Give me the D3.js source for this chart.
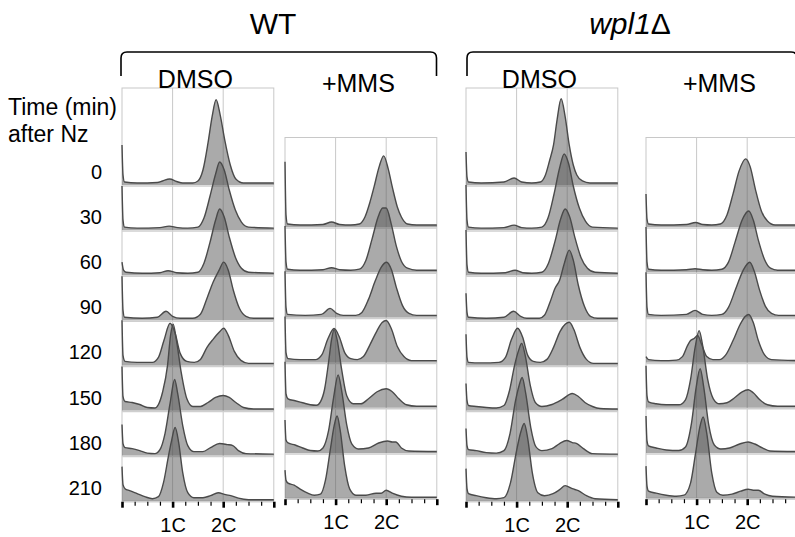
<!DOCTYPE html>
<html>
<head>
<meta charset="utf-8">
<script src="https://cdn.jsdelivr.net/npm/d3@7"></script>
<style>
  body { margin: 0; background: #fff; }
  svg { display: block; font-family: "Liberation Sans", Arial, sans-serif; }
</style>
</head>
<body>
<svg id="chart" width="795" height="537"></svg>
<script>
// time points (min after Nz); +MMS panels start at 30
const times = [0, 30, 60, 90, 120, 150, 180, 210];
const mmsTimes = [30, 60, 90, 120, 150, 180, 210];
const xTicks = ['', '1C', '2C', ''];

// histograms: [DNA content (1C = 1), cell count]
const wtDmso = [
    [[0,40],[0.02,10],[0.05,3],[0.3,2],[0.7,2.5],[0.8,4],[0.94,6],[1.08,3.5],[1.2,2],[1.4,2],[1.5,4],[1.6,15],[1.7,42],[1.78,68],[1.86,85],[1.94,70],[2.03,45],[2.14,20],[2.25,6],[2.4,2],[3,2]],
    [[0,44],[0.02,10],[0.05,3],[0.3,2],[0.75,2.5],[0.93,4],[1.1,2.5],[1.3,2],[1.5,3],[1.62,12],[1.74,34],[1.85,56],[1.93,68],[2.02,60],[2.12,40],[2.24,20],[2.36,8],[2.5,3],[3,2]],
    [[0,13],[0.03,5],[0.08,3],[0.4,2],[0.75,2.5],[0.91,4.5],[1.08,2.5],[1.3,2],[1.5,3],[1.62,12],[1.74,33],[1.85,55],[1.93,66],[2.02,58],[2.12,38],[2.24,18],[2.36,7],[2.5,3],[3,2]],
    [[0,44],[0.02,10],[0.05,3],[0.4,2],[0.7,3],[0.87,9],[1.0,4],[1.15,2],[1.4,2],[1.55,6],[1.68,22],[1.8,38],[1.92,50],[2.01,58],[2.1,50],[2.2,30],[2.32,12],[2.45,4],[2.6,2],[3,2]],
    [[0,45],[0.02,10],[0.06,4],[0.3,3],[0.6,3],[0.72,8],[0.83,25],[0.95,42],[1.05,32],[1.15,12],[1.28,4],[1.43,3],[1.55,6],[1.68,18],[1.8,26],[1.92,33],[2.01,37],[2.1,30],[2.22,14],[2.35,5],[2.5,2],[3,2]],
    [[0,44],[0.02,14],[0.06,9],[0.2,8],[0.35,6],[0.5,3],[0.65,2.5],[0.72,6],[0.8,18],[0.9,45],[0.96,75],[1.01,86],[1.07,72],[1.17,38],[1.28,12],[1.4,4],[1.55,4],[1.7,8],[1.85,13],[2.0,15],[2.12,13],[2.25,8],[2.4,3],[2.6,1.5],[3,1.5]],
    [[0,31],[0.02,12],[0.06,8],[0.2,7],[0.35,5],[0.5,2.5],[0.65,2],[0.75,6],[0.85,22],[0.95,52],[1.04,76],[1.1,62],[1.2,30],[1.3,10],[1.42,4],[1.6,4],[1.75,8],[1.93,12],[2.08,11],[2.19,10],[2.3,5],[2.45,2],[3,1.5]],
    [[0,34],[0.02,16],[0.06,12],[0.15,10],[0.3,7],[0.45,4],[0.6,2],[0.72,4],[0.82,18],[0.92,45],[0.98,60],[1.05,73],[1.12,58],[1.2,28],[1.3,8],[1.42,3],[1.6,3],[1.75,5],[1.9,8],[2.05,6],[2.15,5],[2.3,2.5],[2.5,1],[3,1]]
];
const wtMms = [
    [[0,65],[0.02,12],[0.05,3],[0.3,2],[0.75,2.5],[0.92,5],[1.08,2.5],[1.3,2],[1.47,3],[1.58,10],[1.68,25],[1.76,40],[1.86,60],[1.95,71],[2.04,58],[2.12,40],[2.22,20],[2.3,10],[2.42,3],[2.6,2],[3,2]],
    [[0,46],[0.02,10],[0.05,3],[0.3,2],[0.75,2.5],[0.92,4.5],[1.08,2.5],[1.3,2],[1.47,3],[1.6,12],[1.72,33],[1.84,55],[1.93,64],[2.0,64],[2.1,48],[2.2,26],[2.3,11],[2.42,4],[2.6,2],[3,2]],
    [[0,46],[0.02,10],[0.05,3],[0.4,2],[0.72,3],[0.89,9],[1.02,4],[1.15,2],[1.4,2],[1.52,5],[1.65,18],[1.78,36],[1.9,50],[2.01,55],[2.1,48],[2.2,30],[2.32,12],[2.45,4],[2.6,2],[3,2]],
    [[0,46],[0.02,10],[0.06,4],[0.3,3],[0.6,3],[0.73,8],[0.85,24],[0.97,34],[1.07,26],[1.18,10],[1.3,4],[1.43,3],[1.55,6],[1.68,18],[1.82,32],[1.92,40],[2.0,42],[2.1,34],[2.22,16],[2.35,6],[2.5,2],[3,2]],
    [[0,46],[0.02,14],[0.06,9],[0.2,7],[0.35,5],[0.5,3],[0.62,2.5],[0.7,6],[0.78,18],[0.86,45],[0.92,68],[0.97,78],[1.03,68],[1.12,38],[1.22,12],[1.35,4],[1.5,4],[1.65,9],[1.82,16],[2.0,19],[2.12,16],[2.25,9],[2.4,3],[2.6,1.5],[3,1.5]],
    [[0,33],[0.02,13],[0.06,10],[0.2,8],[0.35,5],[0.5,2.5],[0.65,2],[0.75,5],[0.86,22],[0.96,55],[1.05,78],[1.12,62],[1.22,28],[1.32,9],[1.45,4],[1.65,5],[1.85,10],[2.03,12],[2.12,11],[2.19,11],[2.3,5],[2.45,2],[3,1.5]],
    [[0,28],[0.02,18],[0.06,15],[0.18,13],[0.3,9],[0.45,5],[0.58,3],[0.7,4],[0.8,18],[0.9,50],[0.97,72],[1.03,82],[1.09,68],[1.18,32],[1.28,9],[1.4,3],[1.6,3],[1.8,5],[1.9,5],[2.0,8],[2.12,5],[2.3,2],[2.5,1],[3,1]]
];
const wplDmso = [
    [[0,33],[0.02,8],[0.05,3],[0.3,2],[0.75,3],[0.95,7],[1.1,3],[1.3,2],[1.47,3],[1.57,10],[1.65,24],[1.73,40],[1.8,65],[1.88,86],[1.96,68],[2.04,40],[2.12,20],[2.19,10],[2.3,4],[2.45,2],[3,2]],
    [[0,45],[0.02,10],[0.05,3],[0.3,2],[0.75,2.5],[0.95,5],[1.1,2.5],[1.3,2],[1.5,3],[1.62,12],[1.74,36],[1.85,62],[1.94,76],[2.03,66],[2.12,44],[2.24,22],[2.36,9],[2.5,3],[3,2]],
    [[0,45],[0.02,10],[0.05,3],[0.3,2],[0.78,2.5],[0.97,5],[1.12,2.5],[1.3,2],[1.5,3],[1.63,12],[1.76,34],[1.87,56],[1.96,66],[2.05,58],[2.15,38],[2.27,18],[2.4,7],[2.55,3],[3,2]],
    [[0,27],[0.02,8],[0.05,3],[0.4,2],[0.75,3],[0.94,9],[1.08,4],[1.2,2],[1.45,2],[1.55,5],[1.66,18],[1.76,32],[1.85,40],[1.95,58],[2.04,70],[2.12,60],[2.22,35],[2.34,14],[2.46,4],[2.6,2],[3,2]],
    [[0,31],[0.02,8],[0.05,3],[0.3,2.5],[0.65,3],[0.78,8],[0.9,26],[1.02,37],[1.12,28],[1.22,10],[1.33,4],[1.47,3],[1.6,6],[1.73,18],[1.86,34],[1.96,41],[2.04,43],[2.13,36],[2.25,18],[2.38,6],[2.52,2],[3,2]],
    [[0,27],[0.02,10],[0.05,5],[0.2,4],[0.4,3],[0.6,2.5],[0.75,5],[0.86,20],[0.96,45],[1.04,60],[1.1,67],[1.17,55],[1.27,25],[1.37,8],[1.5,4],[1.7,6],[1.9,11],[2.1,17],[2.22,14],[2.35,8],[2.5,4],[2.65,2],[3,1.5]],
    [[0,27],[0.02,10],[0.05,6],[0.2,5],[0.4,3],[0.6,2.5],[0.75,5],[0.87,22],[0.98,55],[1.05,70],[1.11,78],[1.18,62],[1.28,28],[1.38,9],[1.5,5],[1.7,7],[1.85,12],[1.99,15],[2.1,13],[2.19,12],[2.32,7],[2.5,2],[3,1.5]],
    [[0,32],[0.02,12],[0.05,7],[0.2,5],[0.4,3],[0.6,2],[0.75,3],[0.88,18],[1.0,50],[1.08,68],[1.15,77],[1.22,62],[1.31,28],[1.42,8],[1.55,5],[1.72,7],[1.85,11],[1.96,15],[2.1,12],[2.22,10],[2.38,5],[2.55,2],[3,1]]
];
const wplMms = [
    [[0,33],[0.02,8],[0.05,3],[0.3,2],[0.8,2.5],[0.98,4.5],[1.12,2.5],[1.3,2],[1.47,3],[1.6,12],[1.72,33],[1.84,56],[1.97,68],[2.06,60],[2.16,38],[2.28,16],[2.4,6],[2.55,2],[3,2]],
    [[0,45],[0.02,10],[0.05,3],[0.3,2],[0.8,2.5],[0.97,3.5],[1.12,2.5],[1.3,2],[1.5,3],[1.63,10],[1.76,30],[1.9,52],[2.03,61],[2.12,52],[2.22,32],[2.34,13],[2.46,4],[2.6,2],[3,2]],
    [[0,45],[0.02,10],[0.05,3],[0.3,2],[0.8,3],[0.97,7],[1.12,3],[1.3,2],[1.5,3],[1.63,10],[1.77,28],[1.92,47],[2.05,55],[2.14,46],[2.24,28],[2.36,11],[2.48,4],[2.62,2],[3,2]],
    [[0,6],[0.05,3],[0.3,2],[0.6,2.5],[0.72,6],[0.82,17],[0.88,22],[0.95,24],[1.02,27],[1.1,18],[1.2,6],[1.32,3],[1.45,3],[1.58,8],[1.72,22],[1.86,38],[1.96,46],[2.03,48],[2.12,40],[2.22,22],[2.34,8],[2.48,3],[3,2]],
    [[0,42],[0.02,12],[0.05,6],[0.2,4],[0.4,3],[0.65,3],[0.78,8],[0.88,28],[0.97,60],[1.05,77],[1.12,62],[1.22,28],[1.33,9],[1.45,4],[1.6,5],[1.75,10],[1.9,16],[2.02,18],[2.12,15],[2.25,8],[2.4,3],[2.6,1.5],[3,1.5]],
    [[0,37],[0.02,12],[0.05,7],[0.2,5],[0.4,3],[0.65,2.5],[0.78,6],[0.9,30],[0.99,65],[1.07,84],[1.14,66],[1.24,28],[1.35,8],[1.48,4],[1.65,5],[1.85,9],[2.02,11],[2.15,9],[2.3,5],[2.45,2],[3,1.5]],
    [[0,32],[0.02,12],[0.05,7],[0.2,5],[0.4,3],[0.6,2],[0.75,3],[0.88,15],[0.98,45],[1.06,70],[1.13,81],[1.2,65],[1.3,25],[1.4,6],[1.52,3],[1.7,4],[1.87,7],[2.02,9],[2.12,8],[2.22,8],[2.35,4],[2.5,2],[3,1]]
];

const svg = d3.select('#chart');

const panels = [
    { left: 122, top: 88, rows: times, first: 185, last: 500.7, data: wtDmso, label: 'DMSO' },
    { left: 285, top: 137.5, rows: mmsTimes, first: 227, last: 498.2, data: wtMms, label: '+MMS' },
    { left: 466, top: 88, rows: times, first: 185, last: 500.7, data: wplDmso, label: 'DMSO' },
    { left: 646, top: 137.5, rows: mmsTimes, first: 227, last: 498.2, data: wplMms, label: '+MMS' }
];
const panelW = 151.8;
const count = d3.scaleLinear().domain([0, 45]).range([0, 45.1]);

panels.forEach(function(p) {
    let x = d3.scaleLinear().domain([0, 3]).range([p.left, p.left + panelW]);
    let y = d3.scalePoint().domain(p.rows).range([p.first, p.last]);
    let g = svg.append('g');

    // frame + grid
    g.append('rect')
        .attr('x', x(0)).attr('y', p.top)
        .attr('width', x(3) - x(0)).attr('height', p.last - p.top)
        .attr('fill', 'none').attr('stroke', '#c8c8c8').attr('stroke-width', 1);
    g.selectAll('.vgrid').data([1, 2]).enter().append('line')
        .attr('x1', d => x(d)).attr('x2', d => x(d))
        .attr('y1', p.top).attr('y2', p.last)
        .attr('stroke', '#c8c8c8').attr('stroke-width', 1);
    g.selectAll('.hgrid').data(p.rows).enter().append('line')
        .attr('x1', x(0)).attr('x2', x(3))
        .attr('y1', d => y(d) + 1).attr('y2', d => y(d) + 1)
        .attr('stroke', '#cfcfcf').attr('stroke-width', 1.5);

    // histograms, top row first
    p.data.forEach(function(hist, i) {
        let base = y(p.rows[i]);
        let area = d3.area()
            .x(d => x(d[0]))
            .y0(base)
            .y1(d => base - count(d[1]))
            .curve(d3.curveMonotoneX);
        let line = d3.line()
            .x(d => x(d[0]))
            .y(d => base - count(d[1]))
            .curve(d3.curveMonotoneX);
        g.append('path').attr('d', area(hist))
            .attr('fill', '#555').attr('fill-opacity', 0.5);
        g.append('path').attr('d', line(hist))
            .attr('fill', 'none').attr('stroke', '#4a4a4a').attr('stroke-width', 1.4);
    });

    // bottom axis
    let axis = d3.axisBottom(x)
        .tickValues(d3.range(0, 3.01, 0.25))
        .tickSize(4)
        .tickFormat(d => Number.isInteger(d) ? xTicks[d] : '');
    let ax = g.append('g')
        .attr('transform', 'translate(0,' + (p.last + 1) + ')')
        .call(axis);
    ax.select('.domain').remove();
    ax.selectAll('.tick line').attr('stroke', '#000').attr('stroke-width', 1.2);
    ax.selectAll('.tick').filter(d => Number.isInteger(d)).select('line')
        .attr('y2', 6).attr('stroke-width', 2.6);
    ax.selectAll('.tick text')
        .attr('y', 16)
        .style('font-family', '"Liberation Sans", Arial, sans-serif')
        .style('font-size', '20px')
        .attr('fill', '#000');

    // condition label
    svg.append('text')
        .attr('x', x(1.45)).attr('y', p.top === 88 ? 88 : 91.5)
        .attr('text-anchor', 'middle')
        .style('font-size', '25px')
        .text(p.label);
});

// row labels
let rowY = d3.scalePoint().domain(times).range([185, 500.7]);
svg.selectAll('.rowlab').data(times).enter().append('text')
    .attr('x', 102).attr('y', d => rowY(d) - 6)
    .attr('text-anchor', 'end')
    .style('font-size', '20px')
    .text(d => d);
svg.append('text').attr('x', 8).attr('y', 115).style('font-size', '23px').text('Time (min)');
svg.append('text').attr('x', 8).attr('y', 141.5).style('font-size', '23px').text('after Nz');

// strain brackets
function bracket(x0, x1, yTop, yEnd) {
    let r = 6;
    return 'M' + x0 + ',' + yEnd + 'V' + (yTop + r) + 'Q' + x0 + ',' + yTop + ' ' + (x0 + r) + ',' + yTop +
        'H' + (x1 - r) + 'Q' + x1 + ',' + yTop + ' ' + x1 + ',' + (yTop + r) + 'V' + yEnd;
}
svg.append('path').attr('d', bracket(121, 436.5, 52, 76))
    .attr('fill', 'none').attr('stroke', '#000').attr('stroke-width', 1.6);
svg.append('path').attr('d', bracket(467, 797, 52, 76))
    .attr('fill', 'none').attr('stroke', '#000').attr('stroke-width', 1.6);

svg.append('text').attr('x', 273).attr('y', 33.5)
    .attr('text-anchor', 'middle').style('font-size', '30px').text('WT');
let wpl = svg.append('text').attr('x', 630).attr('y', 33.5)
    .attr('text-anchor', 'middle').style('font-size', '30px');
wpl.append('tspan').style('font-style', 'italic').text('wpl1');
wpl.append('tspan').text('\u0394');
</script>
</body>
</html>
